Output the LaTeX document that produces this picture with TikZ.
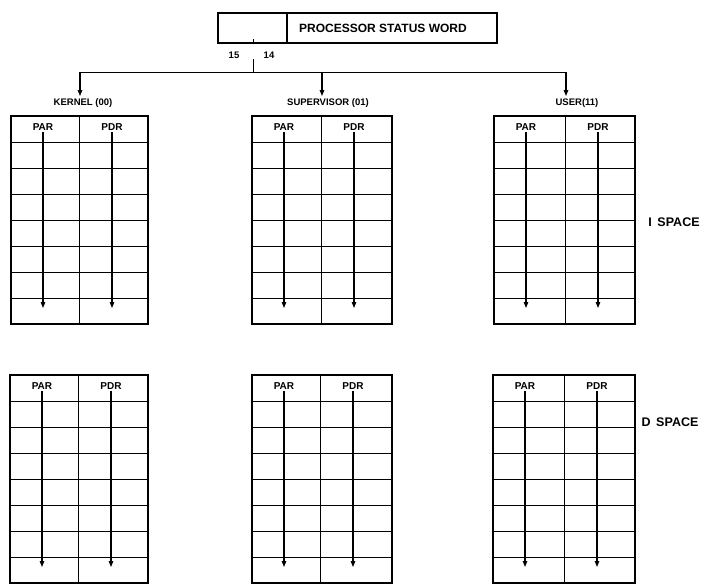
\documentclass[tikz,border=0pt]{standalone}
\usepackage{fontspec}
\setsansfont{Liberation Sans}
\usetikzlibrary{arrows.meta, positioning, calc}
\tikzset{
  every picture/.style={font=\sffamily, line width=1pt, x=1pt, y=-1pt},
  frame/.style={line width=2pt},
  rule/.style={line width=1pt},
  flow/.style={-{Triangle[length=6pt, width=4.5pt]}, line width=1.2pt},
  head/.style={font=\sffamily\bfseries\fontsize{10}{12}\selectfont, inner sep=1.5pt},
  mode/.style={font=\sffamily\bfseries\fontsize{9.5}{12}\selectfont, inner sep=2pt},
  wordtxt/.style={font=\sffamily\bfseries\fontsize{12}{14}\selectfont},
  space/.style={font=\sffamily\bfseries\fontsize{12.5}{14}\selectfont},
}

\begin{document}
\begin{tikzpicture}
  \useasboundingbox (0,0) rectangle (705,584);
  % processor status word
  \node[draw, frame, minimum width=279pt, minimum height=30pt, inner sep=0pt] (psw) at (357.5,28) {};
  \draw[frame] (287,13) -- (287,43);
  \node[wordtxt] (pswtxt) at (383,28) {PROCESSOR STATUS WORD};
  \node[mode] (b15) at (234,55) {15};
  \node[mode] (b14) at (269,55) {14};
  \draw[rule] (253,39) -- (253,43);
  \coordinate (tap) at (253,59);
  % mode bus
  \coordinate (bus-k) at (80,72);
  \coordinate (bus-s) at (322,72);
  \coordinate (bus-u) at (566,72);
  \draw[rule] (bus-k) -- (bus-u);
  \draw[rule] (tap) -- (tap |- bus-k);
  \node[mode] (kernel) at (83,103) {KERNEL (00)};
  \node[mode] (super) at (328,103) {SUPERVISOR (01)};
  \node[mode] (user) at (577,103) {USER(11)};
  \draw[flow] (bus-k) -- (bus-k |- kernel.north);
  \draw[flow] (bus-s) -- (bus-s |- super.north);
  \draw[flow] (bus-u) -- (bus-u |- user.north);
  % register tables: name/left/middle/right/top
  \foreach \n/\l/\m/\r/\t in {ki/11/79/148/116, si/252/321/392/116, ui/494/565/635/116,
                              kd/10/78/148/375, sd/252/320/392/375, ud/493/564/635/375} {
    \foreach \k in {1,...,7}
      \draw[rule] (\l,\t+\k*26) -- (\r,\t+\k*26);
    \draw[rule] (\m,\t) -- (\m,\t+208);
    \draw[frame] (\l,\t) rectangle (\r,\t+208);
    \node[head] (par-\n) at (\l+32,\t+11) {PAR};
    \node[head] (pdr-\n) at (\m+33,\t+11) {PDR};
    \coordinate (pare-\n) at (\l+32,\t+192);
    \coordinate (pdre-\n) at (\m+33,\t+192);
    \draw[flow] (par-\n.south) -- (pare-\n);
    \draw[flow] (pdr-\n.south) -- (pdre-\n);
  }
  % address spaces
  \node[space] (ispace) at (674,222) {I\hspace{0.45em}SPACE};
  \node[space] (dspace) at (670,422) {D\hspace{0.45em}SPACE};
\end{tikzpicture}
\end{document}
